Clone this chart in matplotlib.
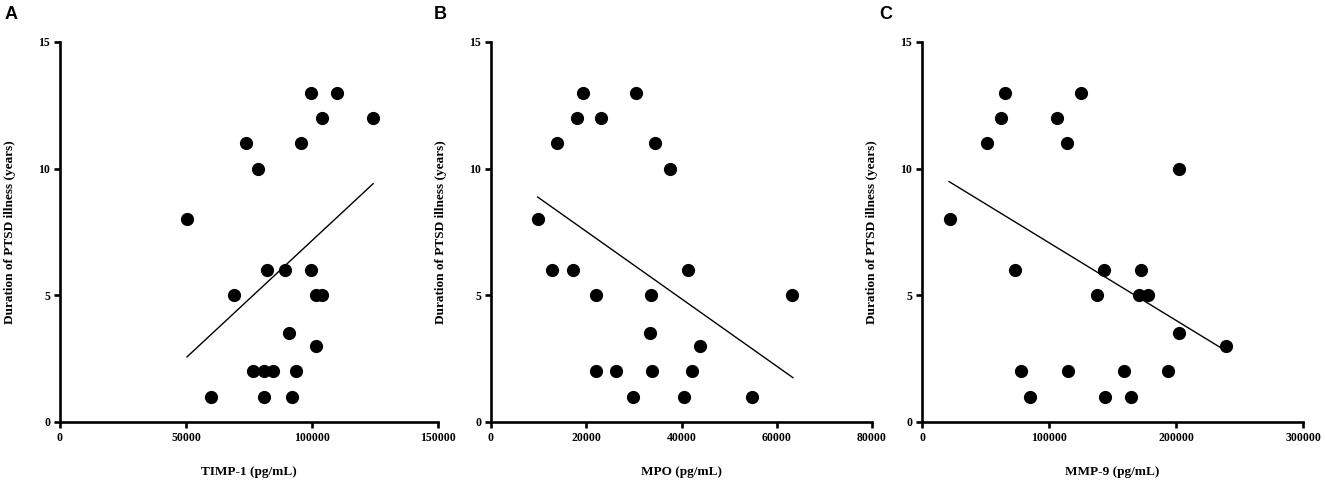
import matplotlib
matplotlib.use("Agg")
import matplotlib.pyplot as plt

# Panel A: TIMP-1
timp_x = [50400, 60000, 69100, 73900, 78700, 82200, 76400, 80900, 84600, 80900,
          89100, 90700, 92100, 93800, 95800, 99500, 99600, 101600, 101600, 103800,
          103900, 110100, 124100]
timp_y = [8, 1, 5, 11, 10, 6, 2, 2, 2, 1,
          6, 3.5, 1, 2, 11, 13, 6, 3, 5, 5,
          12, 13, 12]
timp_fit_x = [50400, 124300]
timp_fit_y = [2.57, 9.41]

# Panel B: MPO
mpo_x = [9900, 12900, 13900, 17300, 18000, 19300, 23000, 22100, 22000, 26300,
         29800, 30500, 33600, 33400, 33900, 34500, 37600, 40500, 41400, 42100,
         43800, 54700, 63200]
mpo_y = [8, 6, 11, 6, 12, 13, 12, 5, 2, 2,
         1, 13, 5, 3.5, 2, 11, 10, 1, 6, 2,
         3, 1, 5]
mpo_fit_x = [9800, 63400]
mpo_fit_y = [8.88, 1.75]

# Panel C: MMP-9
mmp_x = [21800, 50900, 61900, 65600, 73500, 78200, 84800, 106300, 113900, 115200,
         124900, 137500, 143600, 143800, 159100, 164800, 171100, 172200, 178000, 194000,
         202400, 202400, 239600]
mmp_y = [8, 11, 12, 13, 6, 2, 1, 12, 11, 2,
         13, 5, 6, 1, 2, 1, 5, 6, 5, 2,
         10, 3.5, 3]
mmp_fit_x = [21300, 240200]
mmp_fit_y = [9.49, 2.78]

panels = [
    ("A", "TIMP-1 (pg/mL)", timp_x, timp_y, timp_fit_x, timp_fit_y,
     [0, 50000, 100000, 150000]),
    ("B", "MPO (pg/mL)", mpo_x, mpo_y, mpo_fit_x, mpo_fit_y,
     [0, 20000, 40000, 60000, 80000]),
    ("C", "MMP-9 (pg/mL)", mmp_x, mmp_y, mmp_fit_x, mmp_fit_y,
     [0, 100000, 200000, 300000]),
]
y_ticks = [0, 5, 10, 15]

SERIF = "Liberation Serif"
W, H = 1325, 483
fig = plt.figure(figsize=(W / 100, H / 100), dpi=100)

lefts = [60, 491, 922]
widths = [378, 381, 381]
letter_x = [5, 434, 879]

for (letter, xlabel, xs, ys, fx, fy, xticks), left, width, lx in zip(
        panels, lefts, widths, letter_x):
    ax = fig.add_axes([left / W, 1 - 422 / H, width / W, 380 / H])
    ax.scatter(xs, ys, s=72, color="black", zorder=3, clip_on=False)
    ax.plot(fx, fy, color="black", linewidth=1.0)

    ax.set_xlim(xticks[0], xticks[-1])
    ax.set_ylim(0, 15)
    ax.set_xticks(xticks)
    ax.set_yticks(y_ticks)
    ax.set_xticklabels([str(t) for t in xticks])
    ax.set_yticklabels([str(t) for t in y_ticks])

    for side in ("top", "right"):
        ax.spines[side].set_visible(False)
    for side in ("left", "bottom"):
        ax.spines[side].set_linewidth(1.9)
    ax.tick_params(width=1.9, length=4, direction="out", pad=3)
    for lab in ax.get_xticklabels() + ax.get_yticklabels():
        lab.set_fontfamily(SERIF)
        lab.set_fontweight("bold")
        lab.set_fontsize(8.5)

    ax.set_xlabel(xlabel, fontfamily=SERIF, fontweight="bold",
                  fontsize=9.5, labelpad=16)
    ax.set_ylabel("Duration of PTSD illness (years)", fontfamily=SERIF,
                  fontweight="bold", fontsize=9.5, labelpad=16)

    fig.text(lx / W, 1 - 6 / H, letter, fontfamily="Liberation Sans",
             fontweight="bold", fontsize=13, ha="left", va="top")

fig.savefig("out.png", dpi=100)
